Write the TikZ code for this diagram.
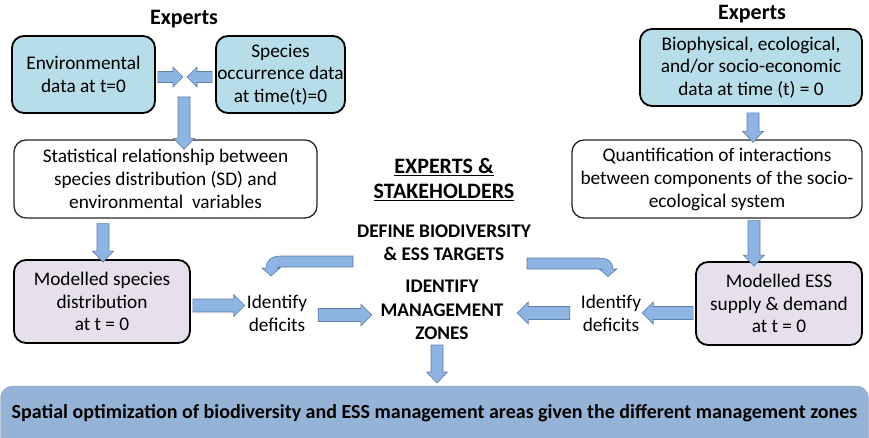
\documentclass[tikz,border=0pt]{standalone}
\usepackage{fontspec}
\setmainfont{Carlito}
\usetikzlibrary{calc}
\definecolor{boxblue}{RGB}{183,221,232}
\definecolor{lav}{RGB}{229,224,236}
\definecolor{arrfill}{RGB}{141,180,226}
\definecolor{arrline}{RGB}{95,125,165}
\definecolor{botblue}{RGB}{149,179,215}
\tikzset{
  cbox/.style={draw=black, line width=1.8pt, rounded corners=12pt, align=center, inner sep=0pt, font=\fontsize{19.3}{22.5}\selectfont},
  bluebox/.style={cbox, fill=boxblue},
  lavbox/.style={cbox, fill=lav},
  wbox/.style={draw=black!85, line width=1.3pt, rounded corners=12pt, fill=white, align=center, inner sep=0pt, font=\fontsize{19.3}{23}\selectfont},
  blk/.style={draw=arrline, fill=arrfill, line width=0.6pt},
  plain/.style={align=center, inner sep=0pt, font=\fontsize{19.3}{23}\selectfont},
  heading/.style={align=center, inner sep=0pt, font=\bfseries\fontsize{22}{25}\selectfont},
  caps/.style={align=center, inner sep=0pt, font=\bfseries\fontsize{19.3}{23.5}\selectfont},
}
\newcommand\blockarrow[5]{%
  \draw[blk] let \p1=(#1), \p2=(#2), \n1={atan2(\y2-\y1,\x2-\x1)}, \n2={veclen(\x2-\x1,\y2-\y1)} in
    ($(\p1)+(\n1+90:#3)$) -- ++(\n1:{\n2-#5}) -- ++(\n1+90:{#4-#3}) -- (\p2)
    -- ($(\p2)+(\n1+180:#5)+(\n1-90:#4)$) -- ++(\n1+90:{#4-#3}) -- ($(\p1)+(\n1-90:#3)$) -- cycle;}
\begin{document}
\begin{tikzpicture}[x=1pt,y=1pt]
\useasboundingbox (0,0) rectangle (869,-438);
% headings
\node[heading] (expL) at (184,-19) {Experts};
\node[heading] (expR) at (752,-14) {Experts};
% left column
\node[bluebox, minimum width=143, minimum height=77] (env) at (83.5,-74.5) {Environmental\\data at t=0};
\node[bluebox, minimum width=129, minimum height=77] (spec) at (280.5,-74.5) {Species\\occurrence data\\at time(t)=0};
\coordinate (meet) at (185,-77);
\node[wbox, minimum width=303, minimum height=78] (stat) at (165.5,-179) {Statistical relationship between\\species distribution (SD) and\\environmental\ \ variables};
\node[lavbox, minimum width=176, minimum height=83] (msd) at (102,-301.5) {Modelled species\\distribution\\at t = 0};
\node[plain] (id1) at (277,-313.5) {Identify\\deficits};
% right column
\node[bluebox, minimum width=222, minimum height=77] (bio) at (751,-67.5) {Biophysical, ecological,\\and/or socio-economic\\data at time (t) = 0};
\node[wbox, minimum width=290, minimum height=78] (quant) at (717,-179) {Quantification of interactions\\between components of the socio-\\ecological system};
\node[lavbox, minimum width=166, minimum height=83] (mess) at (779,-303.5) {Modelled ESS\\supply \& demand\\at t = 0};
\node[plain] (id2) at (611,-313.5) {Identify\\deficits};
% centre
\node[heading] (es) at (444,-179.5) {\underline{EXPERTS \&}\\\underline{STAKEHOLDERS}};
\node[caps] (def) at (444,-242.5) {DEFINE BIODIVERSITY\\\& ESS TARGETS};
\node[caps] (zones) at (442,-310) {IDENTIFY\\MANAGEMENT\\ZONES};
% bottom
\draw[fill=botblue, draw=botblue!90!black, line width=0.4pt, rounded corners=12pt] (0.5,-386) rectangle (868.5,-450);
\coordinate (optTop) at (437,-383);
\node[align=center, inner sep=0pt, font=\bfseries\fontsize{20}{24}\selectfont] (opt) at (434.5,-413) {Spatial optimization of biodiversity and ESS management areas given the different management zones};
% block arrows
\blockarrow{$(env.east)+(2,-2.5)$}{$(meet)+(-2,0)$}{5.5}{10}{10}
\blockarrow{$(spec.west)+(-3,-2.5)$}{$(meet)+(2,0)$}{5.5}{10}{10}
\blockarrow{$(meet)+(-1,-20)$}{$(stat.north)+(18.5,-10)$}{6}{10.5}{11}
\blockarrow{$(stat.south)+(-62.5,-5)$}{$(msd.north)+(1,-3)$}{6}{10.5}{11}
\blockarrow{$(msd.east)+(2,-4)$}{$(id1.west |- msd.east)+(-2,-4)$}{6.5}{11}{11}
\blockarrow{$(id1.east)+(11,-1.5)$}{$(zones.west |- id1.east)+(-8.5,-1.5)$}{6.5}{11}{11}
\blockarrow{$(bio.south)+(2,-6)$}{$(quant.north)+(36,-3)$}{6}{10.5}{11}
\blockarrow{$(quant.south)+(37,-2)$}{$(mess.north)+(-25,-5)$}{6}{10.5}{11}
\blockarrow{$(mess.west)+(-2,-9.5)$}{$(id2.east |- mess.west)+(1,-9.5)$}{6.5}{11}{11}
\blockarrow{$(id2.west)+(-11,0.5)$}{$(zones.east |- id2.west)+(13.5,0.5)$}{6.5}{11}{11}
\blockarrow{$(optTop |- zones.south)+(0,-5)$}{optTop}{6}{10.5}{11}
% curved arrows
\draw[blk] (353,-256) -- (281,-256) .. controls (272,-256) and (266,-260) .. (266,-268) -- (262,-268) -- (271,-276) -- (280,-268) -- (277,-268) .. controls (277,-267.3) .. (279,-267) -- (353,-267) -- cycle;
\draw[blk] (527,-258) -- (599,-258) .. controls (608,-258) and (613,-262) .. (613,-269) -- (617,-269) -- (608,-276.5) -- (599,-269) -- (603,-269) .. controls (603,-268.8) .. (601,-269) -- (527,-269) -- cycle;
\end{tikzpicture}
\end{document}
